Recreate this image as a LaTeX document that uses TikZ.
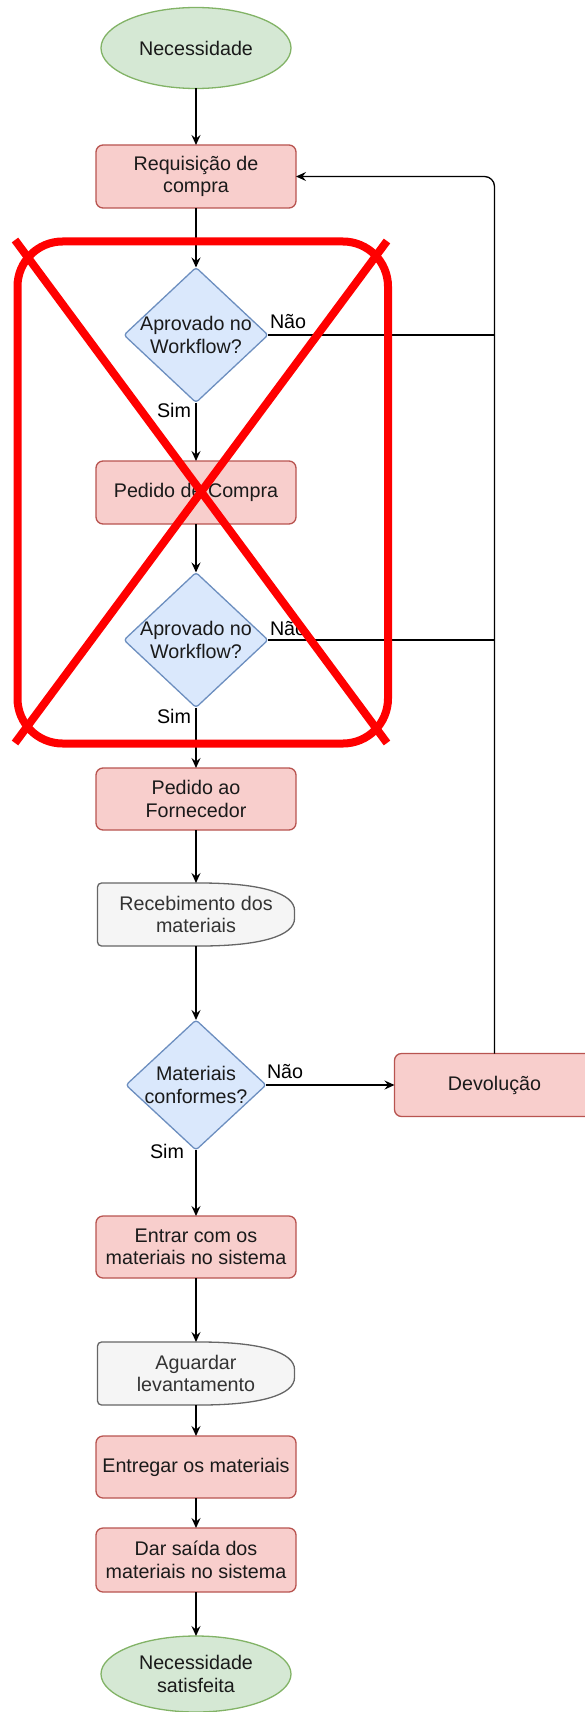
\documentclass[tikz,border=0pt]{standalone}
\usepackage{fontspec}
\setmainfont{Liberation Sans}
\usetikzlibrary{shapes.geometric,arrows.meta,calc}
\pgfdeclarelayer{background}
\pgfsetlayers{background,main}
\definecolor{termfill}{HTML}{D5E8D4}
\definecolor{termline}{HTML}{82B366}
\definecolor{procfill}{HTML}{F8CECC}
\definecolor{procline}{HTML}{B85450}
\definecolor{decfill}{HTML}{DAE8FC}
\definecolor{decline}{HTML}{6C8EBF}
\definecolor{waitfill}{HTML}{F5F5F5}
\definecolor{waitline}{HTML}{666666}
\definecolor{waittext}{HTML}{333333}
\definecolor{ink}{HTML}{1A1A1A}
\definecolor{cross}{HTML}{FF0000}

% outline of a "delay" step: flat left side, half-rounded right side
\newcommand\waitoutline[1]{%
  \begin{pgfonlayer}{background}
    \path[waitbody] (#1.north)
      .. controls ($(#1.north)!2/3!(#1.north east)$) and ($(#1.east)!2/3!(#1.north east)$) .. (#1.east)
      .. controls ($(#1.east)!2/3!(#1.south east)$) and ($(#1.south)!2/3!(#1.south east)$) .. (#1.south)
      -- (#1.south west) -- (#1.north west) -- cycle;
  \end{pgfonlayer}}

\begin{document}
\begin{tikzpicture}[x=1pt,y=-1pt,
  every node/.style={font=\fontsize{19.7}{22.5}\selectfont, text=ink, inner sep=0pt, outer sep=0pt, align=center},
  term/.style={ellipse, draw=termline, fill=termfill, line width=1.3pt, minimum width=190pt, minimum height=81pt},
  proc/.style={rectangle, rounded corners=7pt, draw=procline, fill=procfill, line width=1.3pt, minimum width=200pt, minimum height=63pt},
  dec/.style={diamond, rounded corners=3pt, draw=decline, fill=decfill, line width=1.3pt, minimum width=144pt, minimum height=135pt},
  wait/.style={rectangle, text=waittext, minimum width=197pt, minimum height=63pt},
  waitbody/.style={draw=waitline, fill=waitfill, line width=1.3pt, rounded corners=4pt},
  arr/.style={draw=black, line width=1.3pt, -{Stealth[length=10pt,width=9pt,inset=3.5pt]}},
  wire/.style={draw=black, line width=1.3pt},
  lbl/.style={text=black},
  crossmark/.style={draw=cross, line width=8pt}
]
\useasboundingbox (0,0) rectangle (584,1712);

% steps
\node[term] (start) at (196,48) {Necessidade};
\node[proc] (req) at (196,176.5) {Requisição de\\compra};
\node[dec] (d1) at (196,335) {};
\node (d1t) at (d1) {Aprovado no\\Workflow?};
\node[proc] (pc) at (196,492.5) {Pedido de Compra};
\node[dec] (d2) at (196,640) {};
\node (d2t) at (d2) {Aprovado no\\Workflow?};
\node[proc, minimum height=62pt] (pf) at (196,799) {Pedido ao\\Fornecedor};
\node[wait] (rec) at (196,914.5) {Recebimento dos\\materiais};
\waitoutline{rec}
\node[dec, minimum width=140pt, minimum height=130pt] (d3) at (196,1085) {};
\node (d3t) at (d3) {Materiais\\conformes?};
\node[proc] (dev) at (494.5,1085) {Devolução};
\node[proc, minimum height=62pt] (ent) at (196,1247) {Entrar com os\\materiais no sistema};
\node[wait] (agu) at (196,1373.5) {Aguardar\\levantamento};
\waitoutline{agu}
\node[proc, minimum height=62pt] (entg) at (196,1467) {Entregar os materiais};
\node[proc, minimum height=64pt] (dar) at (196,1560) {Dar saída dos\\materiais no sistema};
\node[term, minimum height=76pt] (fim) at (196,1674) {Necessidade\\satisfeita};

% main flow
\draw[arr] (start) -- (req);
\draw[arr] (req) -- (d1);
\draw[arr] (d1) -- (pc);
\draw[arr] (pc) -- (d2);
\draw[arr] (d2) -- (pf);
\draw[arr] (pf) -- (rec);
\draw[arr] (rec) -- (d3);
\draw[arr] (d3) -- (ent);
\draw[arr] (d3) -- (dev);
\draw[arr] (ent) -- (agu);
\draw[arr] (agu) -- (entg);
\draw[arr] (entg) -- (dar);
\draw[arr] (dar) -- (fim);

% return path to the requisition
\draw[arr, rounded corners=10pt] (dev.north) |- (req.east);
\draw[wire] (d1.east) -- (d1.east -| dev.north);
\draw[wire] (d2.east) -- (d2.east -| dev.north);

% branch labels
\node[lbl, anchor=base west] (no1) at (270,328) {Não};
\node[lbl, anchor=base west] (no2) at (270,635) {Não};
\node[lbl, anchor=base west] (no3) at (267,1078) {Não};
\node[lbl, anchor=base east] (yes1) at (191,417) {Sim};
\node[lbl, anchor=base east] (yes2) at (191,723) {Sim};
\node[lbl, anchor=base east] (yes3) at (184,1158) {Sim};

% crossed-out approval block
\draw[crossmark, rounded corners=45pt] (17.5,241.5) rectangle (388,743.5);
\draw[crossmark] (15,240) -- (387,743);
\draw[crossmark] (387,241) -- (15,743);
\end{tikzpicture}
\end{document}
